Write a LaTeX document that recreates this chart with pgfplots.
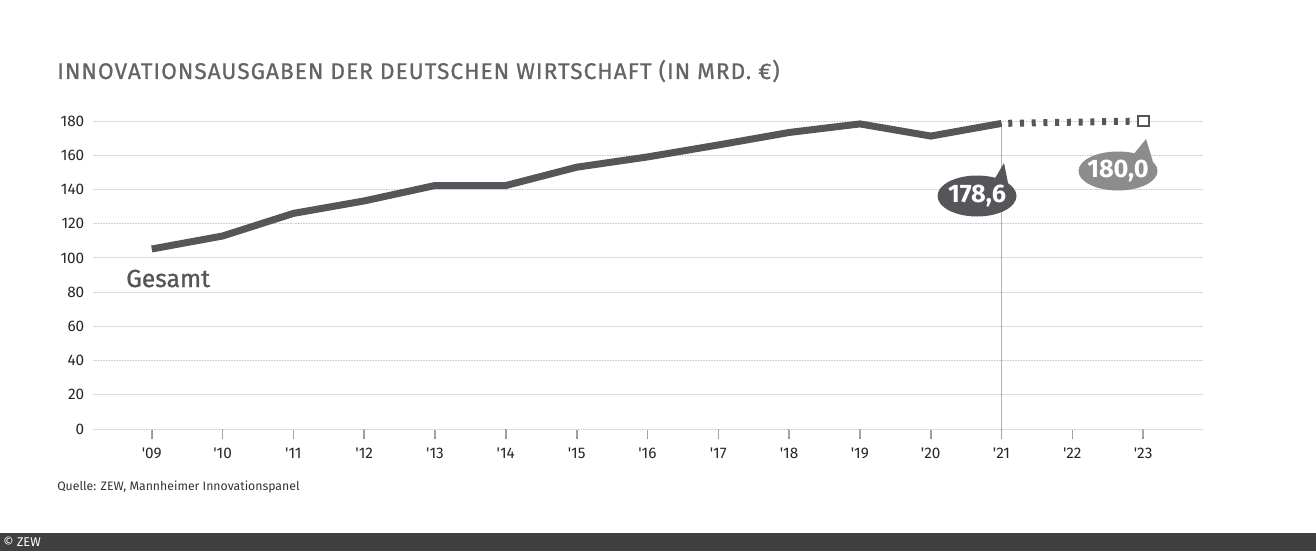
\documentclass[border=0pt]{standalone}
\usepackage{pgfplots}
\pgfplotsset{compat=1.18}
\usepackage{fontspec}
\setmainfont{Fira Sans}
\definecolor{lineg}{RGB}{86,85,89}
\definecolor{lightg}{RGB}{140,140,142}
\definecolor{titleg}{RGB}{100,100,102}
\definecolor{gridg}{RGB}{200,200,200}
\definecolor{footg}{RGB}{64,64,64}

\begin{document}
\begin{tikzpicture}[x=0.75pt, y=0.75pt]
  % page frame, 1316 x 551 px
  \path[use as bounding box] (0,0) rectangle (1316,551);
  \fill[footg] (0,0) rectangle (1316,18);
  \node[anchor=west, white, font=\fontsize{9.5}{10}\selectfont, inner sep=0pt] at (3,9) {© ZEW};

  \node[anchor=base west, titleg, font=\fontsize{17}{20}\selectfont\addfontfeatures{LetterSpace=4.5,FakeBold=0.8}, inner sep=0pt] at (57,472)
    {INNOVATIONSAUSGABEN DER DEUTSCHEN WIRTSCHAFT (IN MRD. €)};
  \node[anchor=base west, black!80, font=\fontsize{9.2}{10}\selectfont, inner sep=0pt] at (57,61)
    {Quelle: ZEW, Mannheimer Innovationspanel};

  % year ticks below the zero line
  \foreach \i in {0,...,14} {
    \draw[black!40, line width=1.2pt] ({151.8+70.82*\i},121) -- ({151.8+70.82*\i},112);
  }

  \begin{axis}[
      at={(69.75pt,91.5pt)}, anchor=south west,
      scale only axis,
      width=831.75pt, height=231pt,
      xmin=2008.17, xmax=2023.83,
      ymin=0, ymax=180,
      axis x line*=bottom,
      axis y line*=left,
      x axis line style={-, gridg, line width=0.6pt, dash pattern=on 0.6pt off 0.6pt},
      y axis line style={draw=none},
      clip=false,
      xtick={2009,...,2023},
      xticklabels={\textquotesingle09,\textquotesingle10,\textquotesingle11,\textquotesingle12,\textquotesingle13,\textquotesingle14,\textquotesingle15,\textquotesingle16,\textquotesingle17,\textquotesingle18,\textquotesingle19,\textquotesingle20,\textquotesingle21,\textquotesingle22,\textquotesingle23},
      ytick={0,20,...,180},
      xtick align=outside,
      major tick length=6pt,
      xtick style={solid, draw=black!35, line width=1pt},
      ytick style={draw=none},
      ymajorgrids,
      grid style={gridg, line width=0.6pt, dash pattern=on 0.6pt off 0.6pt},
      tick label style={font=\fontsize{11.5}{13}\selectfont, black!85},
      /pgf/number format/assume math mode=true,
      yticklabel style={xshift=-3pt},
      xticklabel style={yshift=-5pt},
    ]
    % reference line at 2021
    \addplot[black!30, line width=1.3pt] coordinates {(2021,0) (2021,178.6)};
    % dotted continuation
    \addplot[lineg, line width=5.25pt, dash pattern=on 3pt off 5.8pt, dash phase=-5pt] coordinates {
      (2021,178.6) (2023,180.0)
    };
    \addplot[lineg, line width=1.6pt, mark=square*, mark size=4pt, mark options={fill=white}, only marks] coordinates {
      (2023,180.0)
    };
    % Gesamt
    \addplot[lineg, line width=5.25pt] coordinates {
      (2009,105.2) (2010,112.8) (2011,126.0) (2012,133.3) (2013,142.3)
      (2014,142.3) (2015,153.0) (2016,159.0) (2017,166.0) (2018,173.3)
      (2019,178.3) (2020,171.2) (2021,178.6)
    };
  \end{axis}

  \node[anchor=base west, lineg, font=\fontsize{18.5}{20}\selectfont\addfontfeatures{FakeBold=1}, inner sep=0pt] at (126,264) {Gesamt};

  % callout 178,6
  \fill[lineg] (994,371) -- (1004,388) -- (1009,363) -- cycle;
  \fill[lineg] (977,355) ellipse [x radius=39.5, y radius=20.5];
  \node[white, font=\fontsize{19}{22}\selectfont\bfseries] at (977,355) {178,6};
  % callout 180,0
  \fill[lightg] (1133,396) -- (1146,412) -- (1153,389) -- cycle;
  \fill[lightg] (1118,380) ellipse [x radius=39.5, y radius=19.5];
  \node[white, font=\fontsize{19}{22}\selectfont\bfseries] at (1118,380) {180,0};
\end{tikzpicture}
\end{document}
